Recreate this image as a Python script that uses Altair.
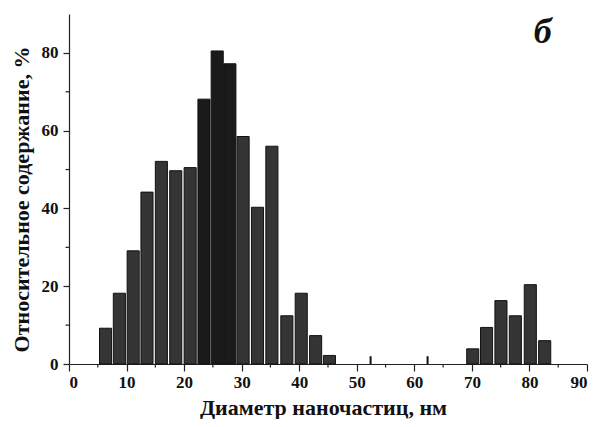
import altair as alt
import pandas as pd

# Histogram bins (left edge, nm) and relative content (%)
bin_start = [5.3, 7.7, 10.1, 12.5, 15.0, 17.5, 20.0, 22.4, 24.7, 26.9, 29.2, 31.7,
             34.2, 36.8, 39.3, 41.8, 44.2, 69.1, 71.5, 74.0, 76.5, 79.1, 81.6]
values = [9.2, 18.2, 29.1, 44.2, 52.1, 49.7, 50.5, 68.1, 80.5, 77.2, 58.5, 40.3,
          56.0, 12.4, 18.2, 7.3, 2.2, 3.9, 9.4, 16.3, 12.4, 20.4, 6.0]
shade = ["n"] * 7 + ["d", "d", "d"] + ["n"] * 13

# small isolated spikes
spike_x = [52.4, 62.3]
spike_y = [2.0, 2.0]

minor_x = [5, 15, 25, 35, 45, 55, 65, 75, 85]
minor_y = [10, 30, 50, 70]

W, H = 518, 350
font = "Liberation Serif"

bars_df = pd.DataFrame({"start": bin_start, "value": values, "shade": shade})
xs = alt.Scale(domain=[0, 90], nice=False, zero=False)
ys = alt.Scale(domain=[0, 90], nice=False)

bars = alt.Chart(bars_df).transform_calculate(
    end="datum.start + 2.1", base="0"
).mark_bar(stroke="#111111", strokeWidth=1).encode(
    x=alt.X("start:Q", scale=xs,
            axis=alt.Axis(values=list(range(0, 100, 10)), title="Диаметр наночастиц, нм",
                          tickSize=7, labelPadding=3, format="d",
                          titleX=254, titleY=50, titleBaseline="alphabetic")),
    x2="end:Q",
    y=alt.Y("value:Q", scale=ys,
            axis=alt.Axis(values=[0, 20, 40, 60, 80], title="Относительное содержание, %",
                          tickSize=6, labelPadding=5,
                          titleX=-41, titleY=185, titleBaseline="alphabetic")),
    y2="base:Q",
    color=alt.Color("shade:N", scale=alt.Scale(domain=["n", "d"], range=["#353535", "#1a1a1a"]),
                    legend=None),
)

spikes = alt.Chart(pd.DataFrame({"x": spike_x, "y": spike_y, "y0": [0, 0]})).mark_rule(
    color="#111111", strokeWidth=2
).encode(x=alt.X("x:Q", scale=xs), y=alt.Y("y0:Q", scale=ys), y2="y:Q")

mx = alt.Chart(pd.DataFrame({"x": minor_x})).mark_rule(color="#222222", strokeWidth=1.2).encode(
    x=alt.X("x:Q", scale=xs), y=alt.value(H), y2=alt.value(H + 3.5)
)
my = alt.Chart(pd.DataFrame({"y": minor_y})).mark_rule(color="#222222", strokeWidth=1.2).encode(
    y=alt.Y("y:Q", scale=ys), x=alt.value(0), x2=alt.value(-3.5)
)

label = alt.Chart(pd.DataFrame({"x": [82.3], "y": [82.6], "t": ["б"]})).mark_text(
    font=font, fontSize=36, fontStyle="italic", fontWeight="bold", color="#111111",
    align="center", baseline="alphabetic"
).encode(x=alt.X("x:Q", scale=xs), y=alt.Y("y:Q", scale=ys), text="t:N")

chart = alt.layer(bars, spikes, mx, my, label).properties(
    width=W, height=H,
    autosize=alt.AutoSizeParams(type="none"),
    padding={"left": 61, "top": 6, "right": 8, "bottom": 55},
).configure_view(stroke=None).configure_axis(
    domainColor="#222222", tickColor="#222222", grid=False,
    labelFont=font, labelFontSize=17, labelFontWeight="bold", labelColor="#111111",
    titleFont=font, titleFontSize=22, titleFontWeight="bold", titleColor="#111111",
    domainWidth=1.2, tickWidth=1.2,
)

chart.save("out.html", embed_options={"renderer": "svg", "actions": False})
